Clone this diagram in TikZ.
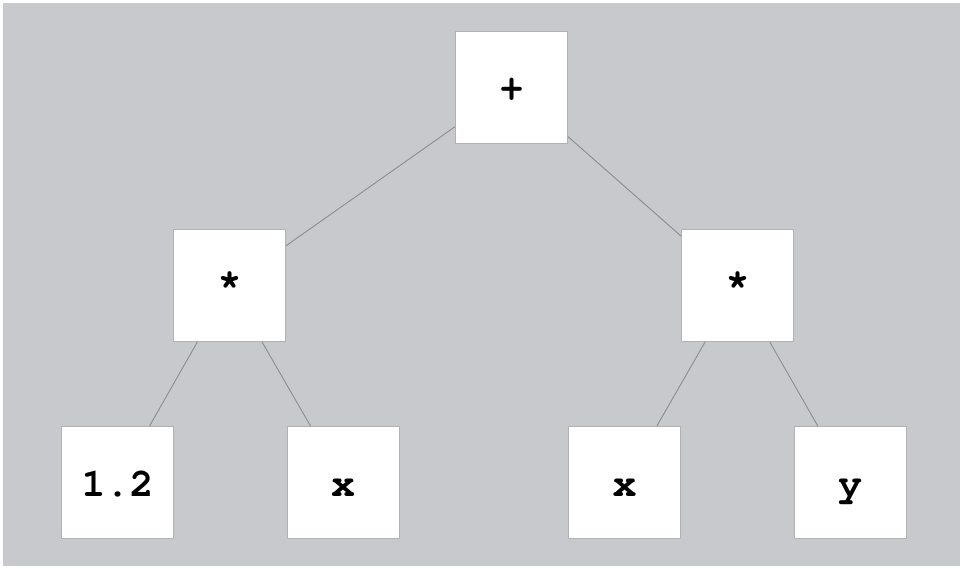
\documentclass[tikz,border=0pt]{standalone}
\usepackage[T1]{fontenc}
\usepackage{courier}
\begin{document}
\begin{tikzpicture}[x=1pt,y=-1pt,
  treebox/.style={draw=black!30,line width=0.8pt,fill=white,minimum width=112pt,minimum height=112pt,inner sep=0pt,text height=30pt,text depth=3pt,font=\fontfamily{pcr}\fontseries{b}\fontsize{40}{40}\selectfont},
  starbox/.style={treebox,text height=12pt,text depth=3pt},
  treeedge/.style={draw=black!45,line width=0.9pt}]
\useasboundingbox (0,0) rectangle (960,569);
\fill[white] (0,0) rectangle (960,569);
\fill[fill={rgb,255:red,200;green,201;blue,204}] (3,3) rectangle (960,566);
\node[treebox] (root) at (511.5,87) {+};
\node[starbox] (l) at (229.5,285.5) {*};
\node[starbox] (r) at (737.5,285.5) {*};
\node[treebox] (ll) at (117.5,482.5) {1.2};
\node[treebox] (lr) at (343,482.5) {x};
\node[treebox] (rl) at (624.5,482.5) {x};
\node[treebox] (rr) at (850,482.5) {y};
\draw[treeedge] (root) -- (l);
\draw[treeedge] (root) -- (r);
\draw[treeedge] (l) -- (ll);
\draw[treeedge] (l) -- (lr);
\draw[treeedge] (r) -- (rl);
\draw[treeedge] (r) -- (rr);
\end{tikzpicture}
\end{document}
